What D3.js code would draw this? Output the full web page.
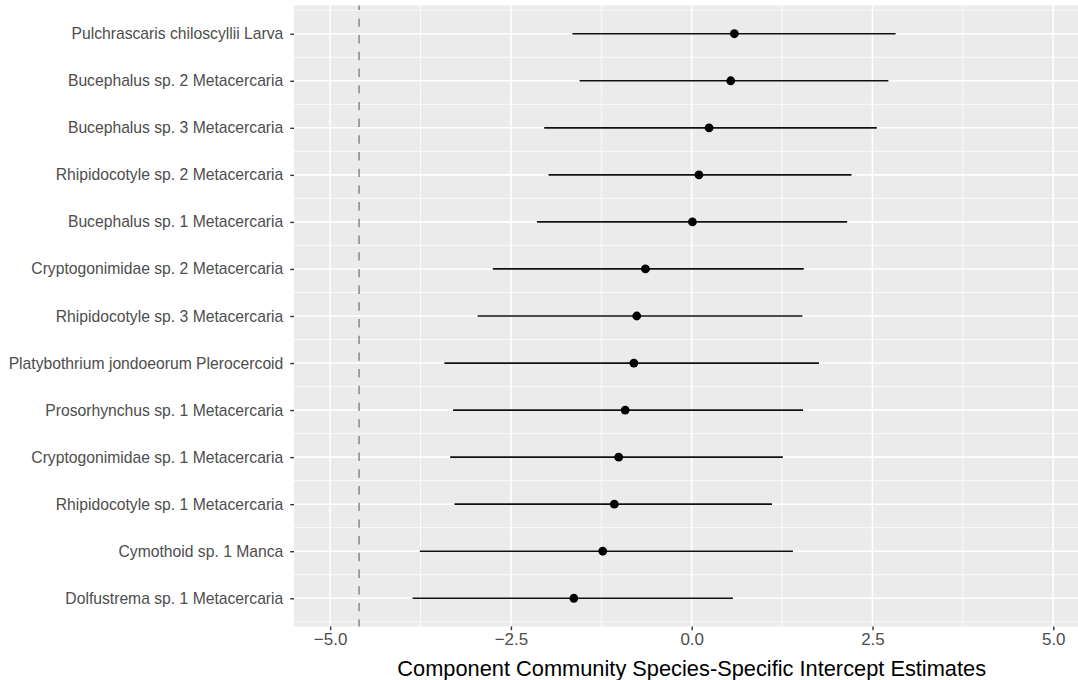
<!DOCTYPE html>
<html>
<head>
<meta charset="utf-8">
<script src="https://cdn.jsdelivr.net/npm/d3@7"></script>
<style>
  body { margin: 0; background: #fff; }
  svg { display: block; font-family: "Liberation Sans", Arial, sans-serif; }
</style>
</head>
<body>
<div id="chart"></div>
<script>
// species, top to bottom
var species = [
  "Pulchrascaris chiloscyllii Larva",
  "Bucephalus sp. 2 Metacercaria",
  "Bucephalus sp. 3 Metacercaria",
  "Rhipidocotyle sp. 2 Metacercaria",
  "Bucephalus sp. 1 Metacercaria",
  "Cryptogonimidae sp. 2 Metacercaria",
  "Rhipidocotyle sp. 3 Metacercaria",
  "Platybothrium jondoeorum Plerocercoid",
  "Prosorhynchus sp. 1 Metacercaria",
  "Cryptogonimidae sp. 1 Metacercaria",
  "Rhipidocotyle sp. 1 Metacercaria",
  "Cymothoid sp. 1 Manca",
  "Dolfustrema sp. 1 Metacercaria"
];
var estimate = [0.59, 0.54, 0.24, 0.10, 0.01, -0.64, -0.76, -0.80, -0.92, -1.01, -1.07, -1.23, -1.63];
var lower = [-1.65, -1.55, -2.04, -1.98, -2.14, -2.75, -2.96, -3.42, -3.30, -3.34, -3.28, -3.76, -3.86];
var upper = [2.82, 2.72, 2.56, 2.21, 2.15, 1.55, 1.53, 1.76, 1.54, 1.26, 1.11, 1.40, 0.57];
var refLine = -4.6;
var xTicks = [-5, -2.5, 0, 2.5, 5];
var xMinor = [-3.75, -1.25, 1.25, 3.75];

var svgWidth = 1078;
var svgHeight = 680;

// panel box (right side runs past the picture edge, as in the reference)
var panel = { left: 294, right: 1089.4, top: 5.5, bottom: 626.5 };

var svg = d3.select("#chart")
  .append("svg")
  .attr("width", svgWidth)
  .attr("height", svgHeight);

var x = d3.scaleLinear()
  .domain([-5.5, 5.5])
  .range([panel.left, panel.right]);

var y = d3.scalePoint()
  .domain(species)
  .range([panel.top, panel.bottom])
  .padding(0.6);

var step = y.step();

// panel background
svg.append("rect")
  .attr("x", panel.left)
  .attr("y", panel.top)
  .attr("width", panel.right - panel.left)
  .attr("height", panel.bottom - panel.top)
  .attr("fill", "#EBEBEB");

var grid = svg.append("g");

// minor grid
var minorY = species.map(d => y(d) - step / 2).concat([y(species[species.length - 1]) + step / 2]);
grid.selectAll(".minor-y")
  .data(minorY)
  .enter()
  .append("line")
  .attr("x1", panel.left).attr("x2", panel.right)
  .attr("y1", d => d).attr("y2", d => d)
  .attr("stroke", "#fff").attr("stroke-width", 0.8);

grid.selectAll(".minor-x")
  .data(xMinor)
  .enter()
  .append("line")
  .attr("x1", d => x(d)).attr("x2", d => x(d))
  .attr("y1", panel.top).attr("y2", panel.bottom)
  .attr("stroke", "#fff").attr("stroke-width", 0.8);

// major grid
grid.selectAll(".major-y")
  .data(species)
  .enter()
  .append("line")
  .attr("x1", panel.left).attr("x2", panel.right)
  .attr("y1", d => y(d)).attr("y2", d => y(d))
  .attr("stroke", "#fff").attr("stroke-width", 1.6);

grid.selectAll(".major-x")
  .data(xTicks)
  .enter()
  .append("line")
  .attr("x1", d => x(d)).attr("x2", d => x(d))
  .attr("y1", panel.top).attr("y2", panel.bottom)
  .attr("stroke", "#fff").attr("stroke-width", 1.6);

// reference line
svg.append("line")
  .attr("x1", x(refLine)).attr("x2", x(refLine))
  .attr("y1", panel.top).attr("y2", panel.bottom)
  .attr("stroke", "#808080")
  .attr("stroke-width", 1.4)
  .attr("stroke-dasharray", "8.4,8.3")
  .attr("stroke-dashoffset", 3.8);

// intervals + points
var rows = species.map((s, i) => ({ name: s, est: estimate[i], lo: lower[i], hi: upper[i] }));

var marks = svg.append("g");
marks.selectAll(".ci")
  .data(rows)
  .enter()
  .append("line")
  .attr("x1", d => x(d.lo)).attr("x2", d => x(d.hi))
  .attr("y1", d => y(d.name)).attr("y2", d => y(d.name))
  .attr("stroke", "#111")
  .attr("stroke-width", 1.7);

marks.selectAll(".pt")
  .data(rows)
  .enter()
  .append("circle")
  .attr("cx", d => x(d.est))
  .attr("cy", d => y(d.name))
  .attr("r", 4.4)
  .attr("fill", "#000");

// x axis
var xAxis = svg.append("g")
  .attr("transform", `translate(0, ${panel.bottom})`)
  .call(d3.axisBottom(x).tickValues(xTicks).tickFormat(d3.format(".1f")).tickSize(3.7).tickPadding(3));
xAxis.select(".domain").remove();
xAxis.selectAll(".tick line").attr("stroke", "#333").attr("stroke-width", 1.4);
xAxis.selectAll("text")
  .attr("fill", "#4D4D4D")
  .style("font-size", "17px")
  .style("font-family", "'Liberation Sans', Arial, sans-serif");

// y axis
var yAxis = svg.append("g")
  .attr("transform", `translate(${panel.left}, 0)`)
  .call(d3.axisLeft(y).tickSize(3.7).tickPadding(7));
yAxis.select(".domain").remove();
yAxis.selectAll(".tick line").attr("stroke", "#333").attr("stroke-width", 1.4);
yAxis.selectAll("text")
  .attr("fill", "#4D4D4D")
  .style("font-size", "15.7px")
  .style("font-family", "'Liberation Sans', Arial, sans-serif");

// axis title
svg.append("text")
  .attr("x", (panel.left + panel.right) / 2)
  .attr("y", 676)
  .attr("text-anchor", "middle")
  .style("font-size", "21.8px")
  .attr("fill", "#000")
  .text("Component Community Species-Specific Intercept Estimates");
</script>
</body>
</html>
